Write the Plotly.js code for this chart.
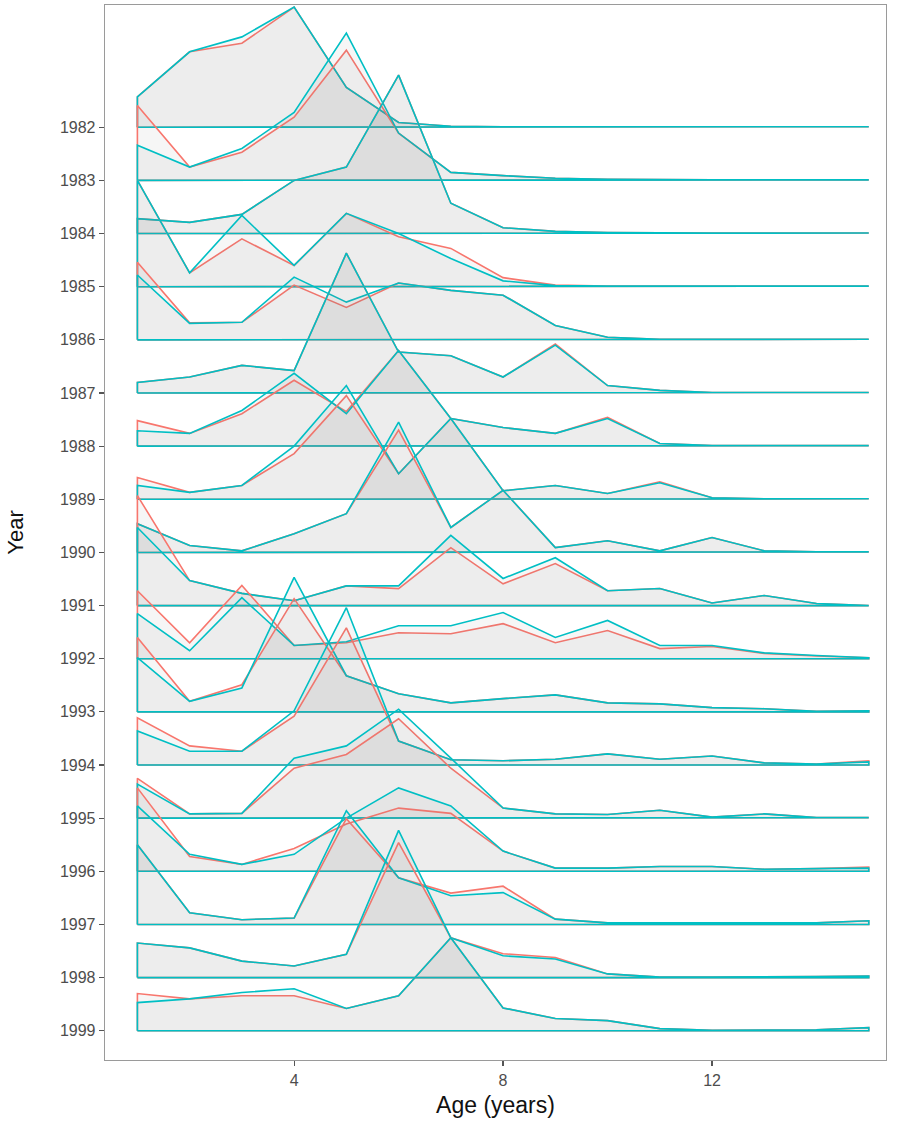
<!DOCTYPE html>
<html>
<head>
<meta charset="utf-8">
<script src="https://cdn.plot.ly/plotly-3.0.1.min.js"></script>
<style>html,body{margin:0;padding:0;background:#fff;}#chart{width:904px;height:1127px;}</style>
</head>
<body>
<div id="chart"></div>
<script>
// Ages on the x axis
const ages = [1,2,3,4,5,6,7,8,9,10,11,12,13,14,15];
// Years (ridges), top to bottom
const years = [1982,1983,1984,1985,1986,1987,1988,1989,1990,1991,1992,1993,1994,1995,1996,1997,1998,1999];
// Ridge heights (in row units) for the red series, one array per year
const red1982 = [0.57,1.42,1.58,2.26,0.75,0.09,0.02,0.01,0.01,0.01,0.01,0.01,0.01,0.01,0.01];
const red1983 = [1.41,0.25,0.53,1.19,2.45,0.89,0.15,0.09,0.04,0.02,0.01,0.01,0.01,0.01,0.01];
const red1984 = [0.28,0.21,0.36,1.00,1.25,2.98,0.57,0.11,0.04,0.02,0.01,0.01,0.01,0.01,0.01];
const red1985 = [2.00,0.26,0.90,0.40,1.38,0.94,0.72,0.17,0.03,0.01,0.01,0.01,0.01,0.01,0.01];
const red1986 = [1.46,0.32,0.33,1.03,0.61,1.07,0.93,0.84,0.27,0.05,0.01,0.01,0.01,0.01,0.01];
const red1987 = [0.20,0.30,0.52,0.42,2.63,0.77,0.70,0.30,0.92,0.14,0.05,0.01,0.01,0.01,0.01];
const red1988 = [0.48,0.24,0.61,1.24,0.65,1.80,0.52,0.35,0.24,0.54,0.05,0.01,0.01,0.01,0.01];
const red1989 = [0.41,0.13,0.26,0.86,1.95,0.48,1.52,0.16,0.26,0.11,0.33,0.03,0.01,0.01,0.01];
const red1990 = [0.54,0.13,0.03,0.35,0.73,2.30,0.47,1.17,0.09,0.22,0.03,0.28,0.03,0.01,0.01];
const red1991 = [2.07,0.47,0.23,0.09,0.37,0.32,1.09,0.41,0.79,0.28,0.32,0.05,0.19,0.04,0.01];
const red1992 = [1.28,0.30,1.38,0.25,0.30,0.49,0.47,0.66,0.30,0.53,0.19,0.23,0.10,0.05,0.02];
const red1993 = [1.40,0.20,0.51,2.13,0.68,0.34,0.17,0.25,0.32,0.17,0.15,0.08,0.06,0.01,0.02];
const red1994 = [0.89,0.36,0.26,0.92,2.58,0.45,0.10,0.08,0.11,0.21,0.11,0.17,0.04,0.02,0.08];
const red1995 = [0.75,0.08,0.09,0.94,1.20,1.87,0.94,0.19,0.08,0.07,0.15,0.02,0.08,0.01,0.01];
const red1996 = [1.57,0.28,0.13,0.43,0.89,1.19,1.09,0.38,0.06,0.06,0.09,0.09,0.04,0.05,0.08];
const red1997 = [1.50,0.22,0.09,0.12,1.99,0.88,0.59,0.72,0.10,0.03,0.03,0.03,0.04,0.03,0.07];
const red1998 = [0.65,0.56,0.31,0.22,0.44,2.54,0.75,0.45,0.38,0.07,0.01,0.01,0.01,0.02,0.03];
const red1999 = [0.70,0.60,0.66,0.66,0.42,0.66,1.75,0.43,0.23,0.19,0.04,0.01,0.01,0.02,0.06];
// Ridge heights for the cyan series
const cyan1982 = [0.57,1.42,1.70,2.26,0.75,0.09,0.02,0.01,0.01,0.01,0.01,0.01,0.01,0.01,0.01];
const cyan1983 = [0.66,0.25,0.60,1.28,2.77,0.89,0.15,0.09,0.04,0.02,0.01,0.01,0.01,0.01,0.01];
const cyan1984 = [0.28,0.21,0.36,1.00,1.25,2.98,0.57,0.11,0.04,0.02,0.01,0.01,0.01,0.01,0.01];
const cyan1985 = [2.00,0.26,1.34,0.40,1.38,1.00,0.53,0.11,0.02,0.01,0.01,0.01,0.01,0.01,0.01];
const cyan1986 = [1.22,0.31,0.33,1.18,0.71,1.07,0.93,0.84,0.27,0.05,0.01,0.01,0.01,0.01,0.01];
const cyan1987 = [0.20,0.30,0.52,0.42,2.63,0.77,0.70,0.30,0.90,0.14,0.05,0.01,0.01,0.01,0.01];
const cyan1988 = [0.29,0.24,0.67,1.37,0.61,1.80,0.52,0.35,0.24,0.52,0.05,0.01,0.01,0.01,0.01];
const cyan1989 = [0.26,0.13,0.26,1.00,2.14,0.48,1.52,0.16,0.26,0.11,0.31,0.03,0.01,0.01,0.01];
const cyan1990 = [0.54,0.13,0.03,0.35,0.73,2.45,0.47,1.17,0.09,0.22,0.03,0.28,0.03,0.01,0.01];
const cyan1991 = [1.47,0.47,0.23,0.09,0.37,0.37,1.32,0.51,0.90,0.28,0.32,0.05,0.19,0.04,0.01];
const cyan1992 = [0.85,0.15,1.15,0.25,0.32,0.62,0.62,0.87,0.40,0.72,0.25,0.25,0.11,0.06,0.02];
const cyan1993 = [1.02,0.20,0.45,2.53,0.68,0.34,0.17,0.25,0.32,0.17,0.15,0.08,0.06,0.01,0.02];
const cyan1994 = [0.64,0.26,0.26,1.02,2.96,0.45,0.10,0.08,0.11,0.21,0.11,0.17,0.04,0.02,0.06];
const cyan1995 = [0.64,0.08,0.09,1.13,1.36,2.05,1.13,0.19,0.08,0.07,0.15,0.02,0.08,0.01,0.01];
const cyan1996 = [1.23,0.32,0.13,0.32,1.00,1.57,1.23,0.38,0.06,0.06,0.09,0.09,0.04,0.05,0.06];
const cyan1997 = [1.50,0.22,0.09,0.12,2.14,0.88,0.54,0.60,0.10,0.03,0.03,0.03,0.04,0.03,0.07];
const cyan1998 = [0.65,0.56,0.31,0.22,0.44,2.77,0.75,0.41,0.35,0.07,0.01,0.01,0.01,0.02,0.03];
const cyan1999 = [0.53,0.60,0.72,0.79,0.42,0.66,1.75,0.43,0.23,0.19,0.04,0.01,0.01,0.02,0.06];

const redSeries = [red1982,red1983,red1984,red1985,red1986,red1987,red1988,red1989,red1990,red1991,red1992,red1993,red1994,red1995,red1996,red1997,red1998,red1999];
const cyanSeries = [cyan1982,cyan1983,cyan1984,cyan1985,cyan1986,cyan1987,cyan1988,cyan1989,cyan1990,cyan1991,cyan1992,cyan1993,cyan1994,cyan1995,cyan1996,cyan1997,cyan1998,cyan1999];

const RED = '#F8766D', CYAN = '#00BFC4';
const lastYear = years[years.length-1];

function ridge(vals, base, color) {
  const xs = [ages[0]].concat(ages, [ages[ages.length-1], ages[0]]);
  const ys = [base].concat(vals.map(v => base + v), [base, base]);
  return {
    type: 'scatter', mode: 'lines', x: xs, y: ys,
    fill: 'toself', fillcolor: 'rgba(128,128,128,0.07)',
    line: {color: color, width: 1.6, shape: 'linear'},
    hoverinfo: 'skip', showlegend: false
  };
}

const traces = [];
years.forEach((yr, i) => {
  const base = lastYear - yr;
  traces.push(ridge(redSeries[i], base, RED));
  traces.push(ridge(cyanSeries[i], base, CYAN));
});

const layout = {
  width: 904, height: 1127,
  margin: {l: 105, r: 18, t: 5, b: 67},
  paper_bgcolor: '#ffffff', plot_bgcolor: '#ffffff',
  font: {family: 'Liberation Sans, Arial, sans-serif', color: '#4d4d4d'},
  xaxis: {
    range: [0.38, 15.33], tickmode: 'array', tickvals: [4, 8, 12], ticktext: ['4','8','12'],
    ticks: 'outside', ticklen: 5, tickwidth: 1.2, tickcolor: '#555',
    tickfont: {size: 16, color: '#4d4d4d'},
    showgrid: false, zeroline: false,
    showline: true, mirror: true, linecolor: '#9a9a9a', linewidth: 1.3,
    title: {text: 'Age (years)', font: {size: 23, color: '#111'}, standoff: 9}
  },
  yaxis: {
    range: [-0.55, 19.30], tickmode: 'array',
    tickvals: years.map(y => lastYear - y), ticktext: years.map(String),
    ticks: 'outside', ticklen: 5, tickwidth: 1.2, tickcolor: '#555',
    tickfont: {size: 16, color: '#4d4d4d'},
    showgrid: false, zeroline: false,
    showline: true, mirror: true, linecolor: '#9a9a9a', linewidth: 1.3,
    title: {text: 'Year', font: {size: 22, color: '#111'}, standoff: 30}
  }
};

Plotly.newPlot('chart', traces, layout, {displayModeBar: false, staticPlot: true});
</script>
</body>
</html>
